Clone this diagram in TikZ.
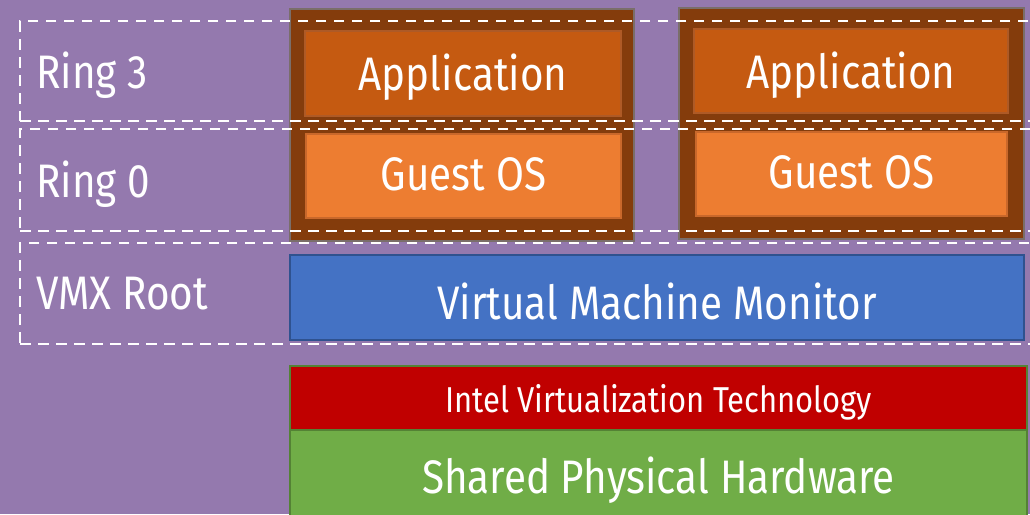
\documentclass[tikz,border=0pt]{standalone}
\usepackage{fontspec}
\setmainfont{Fira Sans}[FakeStretch=0.86]
\definecolor{bgpurple}{HTML}{9479AE}
\definecolor{vmfill}{HTML}{843C0C}
\definecolor{vmedge}{HTML}{7A6E6A}
\definecolor{appfill}{HTML}{C55A11}
\definecolor{appedge}{HTML}{AE5A26}
\definecolor{osfill}{HTML}{ED7D31}
\definecolor{osedge}{HTML}{C9682B}
\definecolor{vmmfill}{HTML}{4472C4}
\definecolor{vmmedge}{HTML}{2F528F}
\definecolor{vtfill}{HTML}{C00000}
\definecolor{hwfill}{HTML}{70AD47}
\definecolor{hwedge}{HTML}{548235}
\tikzset{
  layerbox/.style={draw, line width=2pt, inner sep=0pt, anchor=north west},
  vmbox/.style={layerbox, fill=vmfill, draw=vmedge},
  appbox/.style={layerbox, fill=appfill, draw=appedge},
  osbox/.style={layerbox, fill=osfill, draw=osedge},
  vmmbox/.style={layerbox, fill=vmmfill, draw=vmmedge},
  vtbox/.style={layerbox, fill=vtfill, draw=hwedge},
  hwbox/.style={layerbox, fill=hwfill, draw=hwedge},
  ringbox/.style={draw=white, line width=2.2pt, dash pattern=on 10.5pt off 7.5pt, inner sep=0pt, anchor=north west},
  txt/.style={text=white, inner sep=0pt, anchor=base, font=\fontsize{47}{50}\selectfont},
  smalltxt/.style={txt, font=\fontsize{36}{40}\selectfont},
  ringtxt/.style={txt, anchor=base west},
}
\begin{document}
\begin{tikzpicture}[x=1pt,y=-1pt]
  \fill[bgpurple] (0,0) rectangle (1030,514);
  \useasboundingbox (0,0) rectangle (1030,514);

  % two virtual machines
  \node[vmbox, minimum width=344pt, minimum height=232pt] (vm1) at (289,8) {};
  \node[vmbox, minimum width=345pt, minimum height=231pt] (vm2) at (678,7) {};
  \node[appbox, minimum width=316pt, minimum height=85pt] (app1) at (304,30) {};
  \node[osbox, minimum width=315pt, minimum height=84pt] (os1) at (305,133) {};
  \node[appbox, minimum width=314pt, minimum height=84pt] (app2) at (693,28) {};
  \node[osbox, minimum width=311pt, minimum height=84pt] (os2) at (695,131) {};

  % hypervisor and hardware
  \node[vmmbox, minimum width=734pt, minimum height=85pt] (vmm) at (289,254) {};
  \node[vtbox, minimum width=737pt, minimum height=64pt] (vt) at (289,365) {};
  \node[hwbox, minimum width=737pt, minimum height=90pt] (hw) at (289,429) {};

  % privilege rings
  \node[ringbox, minimum width=1030pt, minimum height=100pt] (r3) at (19,20) {};
  \node[ringbox, minimum width=1030pt, minimum height=102pt] (r0) at (19,128) {};
  \node[ringbox, minimum width=1030pt, minimum height=101pt] (vmx) at (19,242) {};

  % labels
  \node[ringtxt] (r3t) at (36,88) {Ring 3};
  \node[ringtxt] (r0t) at (36,197) {Ring 0};
  \node[ringtxt] (vmxt) at (36,309) {VMX Root};
  \node[txt] (app1t) at (app1.center |- 0,90) {Application};
  \node[txt] (os1t) at (os1.center |- 0,190) {Guest OS};
  \node[txt] (app2t) at (app2.center |- 0,88) {Application};
  \node[txt] (os2t) at (os2.center |- 0,188) {Guest OS};
  \node[txt] (vmmt) at (vmm.center |- 0,319) {Virtual Machine Monitor};
  \node[smalltxt] (vtt) at (vt.center |- 0,412) {Intel Virtualization Technology};
  \node[txt] (hwt) at (hw.center |- 0,493) {Shared Physical Hardware};
\end{tikzpicture}
\end{document}
